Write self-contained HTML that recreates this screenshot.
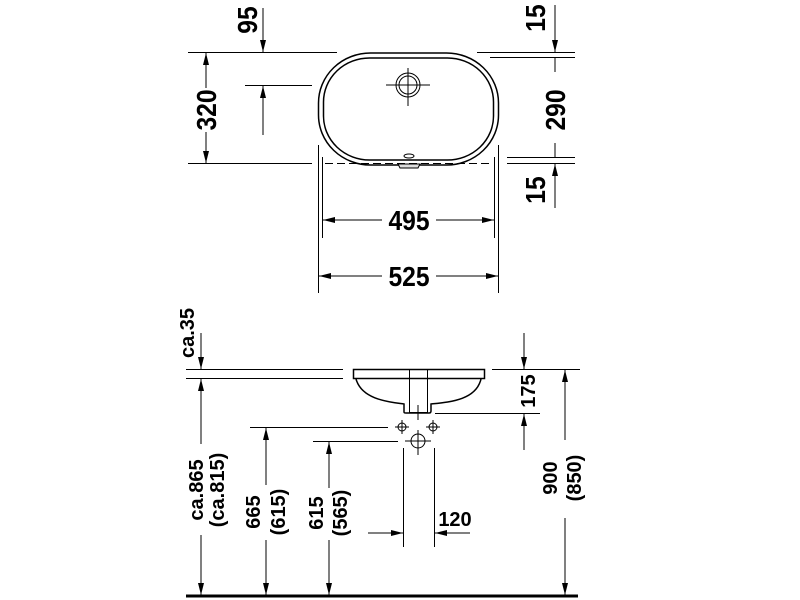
<!DOCTYPE html>
<html><head><style>
html,body{margin:0;padding:0;background:#fff;}
svg{display:block;}
text{font-family:"Liberation Sans",sans-serif;font-weight:bold;fill:#000;}
</style></head><body>
<svg width="800" height="600" viewBox="0 0 800 600" xmlns="http://www.w3.org/2000/svg">
<defs>
<marker id="a" viewBox="0 0 12 6" refX="12" refY="3" markerWidth="12" markerHeight="6" markerUnits="userSpaceOnUse" orient="auto"><path d="M0,0 L12,3 L0,6 z" fill="#000"/></marker>
</defs>
<g stroke="#000" stroke-width="1" fill="none">
<line x1="188" y1="52.5" x2="337" y2="52.5"/>
<line x1="188" y1="163.5" x2="312" y2="163.5"/>
<line x1="245" y1="85.5" x2="312" y2="85.5"/>
<line x1="477" y1="52.5" x2="575" y2="52.5"/>
<line x1="490" y1="57.5" x2="575" y2="57.5"/>
<line x1="507" y1="157.5" x2="575" y2="157.5"/>
<line x1="507" y1="163.5" x2="575" y2="163.5"/>
<line x1="318.5" y1="145" x2="318.5" y2="293"/>
<line x1="322.5" y1="157" x2="322.5" y2="238"/>
<line x1="494.5" y1="157" x2="494.5" y2="238"/>
<line x1="498.5" y1="145" x2="498.5" y2="293"/>
<line x1="325" y1="163.5" x2="492" y2="163.5" stroke-dasharray="8,4"/>
<line x1="263" y1="8" x2="263" y2="52" marker-end="url(#a)"/>
<line x1="263" y1="135" x2="263" y2="86" marker-end="url(#a)"/>
<line x1="206" y1="88" x2="206" y2="53" marker-end="url(#a)"/>
<line x1="206" y1="132" x2="206" y2="163" marker-end="url(#a)"/>
<line x1="555" y1="5" x2="555" y2="52" marker-end="url(#a)"/>
<line x1="555" y1="57" x2="555" y2="72"/>
<line x1="555" y1="143" x2="555" y2="157"/>
<line x1="555" y1="208" x2="555" y2="164" marker-end="url(#a)"/>
<line x1="382" y1="220" x2="323" y2="220" marker-end="url(#a)"/>
<line x1="436" y1="220" x2="494" y2="220" marker-end="url(#a)"/>
<line x1="382" y1="276" x2="319" y2="276" marker-end="url(#a)"/>
<line x1="436" y1="276" x2="498" y2="276" marker-end="url(#a)"/>
<rect x="318.5" y="53" width="180" height="112" rx="52" ry="50" stroke-width="1.5"/>
<rect x="323.5" y="58" width="170" height="102" rx="46" ry="44" stroke-width="1.5"/>
<circle cx="408" cy="85" r="12"/><circle cx="408" cy="85" r="9"/>
<line x1="386" y1="85" x2="430" y2="85"/><line x1="408" y1="68" x2="408" y2="106"/>
<ellipse cx="409" cy="156" rx="5" ry="2"/>
<path d="M398,164 L420,164 L418,168 L400,168 z" fill="#ddd"/>
<line x1="186" y1="369.5" x2="343" y2="369.5"/>
<line x1="186" y1="378.5" x2="343" y2="378.5"/>
<line x1="492" y1="369.5" x2="580" y2="369.5"/>
<line x1="435" y1="413.5" x2="540" y2="413.5"/>
<line x1="250" y1="427.5" x2="388" y2="427.5"/>
<line x1="313" y1="441.5" x2="398" y2="441.5"/>
<rect x="353.5" y="369.5" width="131" height="9" stroke-width="1.5"/>
<path d="M356,379 C362,400 390,402 404,404 L404,412 Q404,413 406,413 L429,413 Q431,413 431,411 L431,404 C450,402 476,400 481,379" stroke-width="1.5"/>
<rect x="409.5" y="369.5" width="18" height="43"/>
<line x1="418" y1="405" x2="418" y2="420"/>
<circle cx="402" cy="427" r="4"/><line x1="395" y1="427" x2="409" y2="427"/><line x1="402" y1="420" x2="402" y2="434"/>
<circle cx="433" cy="427" r="4"/><line x1="426" y1="427" x2="440" y2="427"/><line x1="433" y1="420" x2="433" y2="434"/>
<circle cx="418" cy="441" r="7"/><line x1="405" y1="441" x2="431" y2="441"/><line x1="418" y1="430" x2="418" y2="455"/>
<line x1="403.5" y1="448" x2="403.5" y2="547"/>
<line x1="434.5" y1="448" x2="434.5" y2="547"/>
<line x1="201" y1="333" x2="201" y2="369" marker-end="url(#a)"/>
<line x1="201" y1="444" x2="201" y2="379" marker-end="url(#a)"/>
<line x1="201" y1="535" x2="201" y2="595" marker-end="url(#a)"/>
<line x1="266" y1="485" x2="266" y2="428" marker-end="url(#a)"/>
<line x1="266" y1="540" x2="266" y2="595" marker-end="url(#a)"/>
<line x1="329" y1="488" x2="329" y2="442" marker-end="url(#a)"/>
<line x1="329" y1="540" x2="329" y2="595" marker-end="url(#a)"/>
<line x1="565" y1="440" x2="565" y2="370" marker-end="url(#a)"/>
<line x1="565" y1="518" x2="565" y2="595" marker-end="url(#a)"/>
<line x1="524" y1="333" x2="524" y2="369" marker-end="url(#a)"/>
<line x1="524" y1="450" x2="524" y2="414" marker-end="url(#a)"/>
<line x1="368" y1="533" x2="403" y2="533" marker-end="url(#a)"/>
<line x1="470" y1="533" x2="435" y2="533" marker-end="url(#a)"/>
<line x1="186" y1="596" x2="578" y2="596" stroke-width="3"/>
</g>
<g font-size="28">
<text transform="translate(257,20) rotate(-90) scale(0.88,1)" text-anchor="middle">95</text>
<text transform="translate(216,110) rotate(-90) scale(0.88,1)" text-anchor="middle">320</text>
<text transform="translate(545,18) rotate(-90) scale(0.88,1)" text-anchor="middle">15</text>
<text transform="translate(565,110) rotate(-90) scale(0.88,1)" text-anchor="middle">290</text>
<text transform="translate(545,190) rotate(-90) scale(0.88,1)" text-anchor="middle">15</text>
<text transform="translate(409,230) scale(0.88,1)" text-anchor="middle">495</text>
<text transform="translate(409,286) scale(0.88,1)" text-anchor="middle">525</text>
</g>
<g font-size="20">
<text transform="translate(194,333) rotate(-90)" text-anchor="middle">ca.35</text>
<text transform="translate(203,490) rotate(-90)" text-anchor="middle">ca.865</text>
<text transform="translate(224,490) rotate(-90)" text-anchor="middle">(ca.815)</text>
<text transform="translate(260,512) rotate(-90)" text-anchor="middle">665</text>
<text transform="translate(285,512) rotate(-90)" text-anchor="middle">(615)</text>
<text transform="translate(323,513) rotate(-90)" text-anchor="middle">615</text>
<text transform="translate(347,513) rotate(-90)" text-anchor="middle">(565)</text>
<text transform="translate(535,391) rotate(-90)" text-anchor="middle">175</text>
<text transform="translate(557,478) rotate(-90)" text-anchor="middle">900</text>
<text transform="translate(581,478) rotate(-90)" text-anchor="middle">(850)</text>
<text x="455" y="526" text-anchor="middle">120</text>
</g>
</svg>
</body></html>
